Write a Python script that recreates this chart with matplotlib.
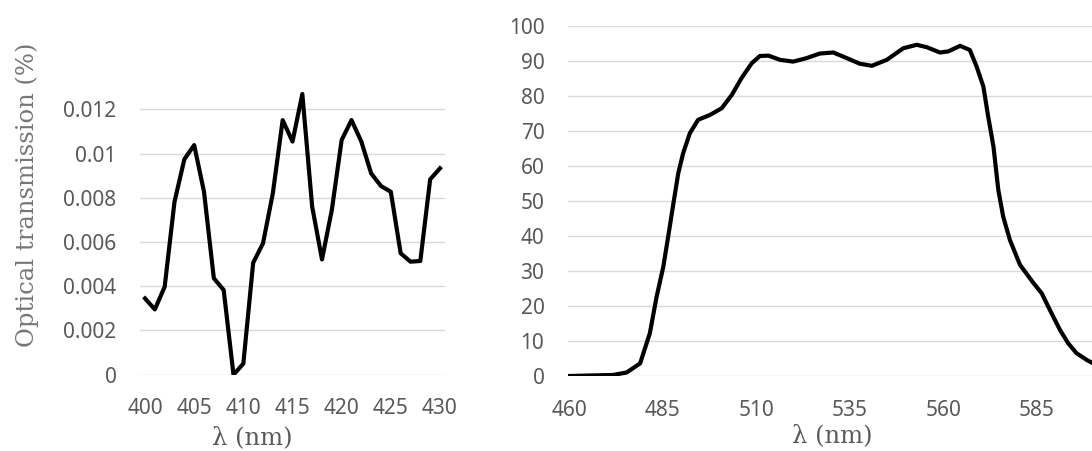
import matplotlib
matplotlib.use("Agg")
import matplotlib.pyplot as plt

# ---- data: left panel (out-of-band transmission) ----
wl_left = [400, 401, 402, 403, 404, 405, 406, 407, 408, 409, 410, 411, 412, 413, 414, 415,
           416, 417, 418, 419, 420, 421, 422, 423, 424, 425, 426, 427, 428, 429, 430]
trans_left = [0.00345, 0.00295, 0.00398, 0.00782, 0.00974, 0.01038, 0.00827, 0.00436,
              0.00383, 0.0, 0.0005, 0.00506, 0.00594, 0.0082, 0.01151, 0.01054, 0.01269,
              0.0076, 0.00521, 0.00745, 0.01061, 0.01151, 0.01054, 0.0091, 0.00853,
              0.00827, 0.00549, 0.00511, 0.00514, 0.00883, 0.00933]
left_yticks = [0, 0.002, 0.004, 0.006, 0.008, 0.010, 0.012]
left_yticklabels = ["0", "0.002", "0.004", "0.006", "0.008", "0.01", "0.012"]
left_xticks = [400, 405, 410, 415, 420, 425, 430]

# ---- data: right panel (passband) ----
wl_right = [460, 471.8, 475.4, 479, 481.6, 483.4, 485.2, 486.5, 487.9, 489.2, 490.5, 492.3,
            494.5, 497.7, 500.8, 503.5, 506.1, 508.8, 511, 513.3, 516.4, 519.9, 523.5, 527,
            530.6, 534.2, 537.7, 540.9, 544.9, 549.3, 552.9, 555.6, 559.1, 561.3, 564.5,
            567.1, 568.9, 570.7, 572, 573.4, 574.7, 576.0, 577.8, 580.5, 584.1, 586.3,
            588.5, 591.2, 593.4, 595.6, 598.3, 600]
trans_right = [0, 0.3, 1.0, 3.6, 12.2, 22.6, 31.2, 39.8, 49.3, 57.9, 63.6, 69.3,
               73.1, 74.5, 76.4, 80.2, 85.0, 89.2, 91.3, 91.4, 90.2, 89.7, 90.7, 92.0,
               92.3, 90.7, 89.1, 88.5, 90.2, 93.5, 94.5, 93.8, 92.3, 92.6, 94.2,
               93.0, 88.3, 82.6, 74, 65.5, 53.1, 45.5, 38.8, 31.7, 26.5, 23.6,
               18.8, 13.1, 9.3, 6.5, 4.6, 3.6]
right_yticks = [0, 10, 20, 30, 40, 50, 60, 70, 80, 90, 100]
right_xticks = [460, 485, 510, 535, 560, 585]

W, H = 1092, 451
TICK_COLOR = "#595959"
LABEL_COLOR = "#767676"
GRID_COLOR = "#d9d9d9"
TICK_FONT = "Noto Sans"
LABEL_FONT = "DejaVu Serif"
TICK_SIZE = 15
LABEL_SIZE = 17.5

fig = plt.figure(figsize=(W / 100, H / 100), dpi=100)


def px_axes(x0, x1, ytop, ybot):
    return fig.add_axes([x0 / W, (H - ybot) / H, (x1 - x0) / W, (ybot - ytop) / H])


def style(ax):
    for s in ax.spines.values():
        s.set_visible(False)
    ax.grid(axis="y", color=GRID_COLOR, linewidth=1.0)
    ax.set_axisbelow(True)
    ax.tick_params(length=0, colors=TICK_COLOR, labelsize=TICK_SIZE)
    ax.tick_params(axis="x", pad=17)
    ax.tick_params(axis="y", pad=17)
    for lab in ax.get_xticklabels() + ax.get_yticklabels():
        lab.set_fontfamily(TICK_FONT)


# left panel
axL = px_axes(140, 445, 78.3, 374.7)
axL.plot(wl_left, trans_left, color="black", linewidth=3.0, solid_joinstyle="round")
axL.set_yticks(left_yticks)
axL.set_yticklabels(left_yticklabels)
axL.set_xticks(left_xticks)
axL.set_xlim(399.49, 430.51)
axL.set_ylim(0, 0.0134)
style(axL)

# right panel
axR = px_axes(568, 1093, 25.5, 376)
axR.plot(wl_right, trans_right, color="black", linewidth=3.0, solid_joinstyle="round")
axR.set_yticks(right_yticks)
axR.set_xticks(right_xticks)
axR.set_xlim(459.73, 600)
axR.set_ylim(0, 100)
style(axR)

fig.text(27 / W, 1 - 195 / H, "Optical transmission (%)", rotation=90, ha="center",
         va="center", fontsize=LABEL_SIZE, family=LABEL_FONT, color=LABEL_COLOR)
fig.text(252 / W, 1 - 438 / H, "λ (nm)", ha="center", va="center",
         fontsize=LABEL_SIZE, family=LABEL_FONT, color=TICK_COLOR)
fig.text(832 / W, 1 - 436 / H, "λ (nm)", ha="center", va="center",
         fontsize=LABEL_SIZE, family=LABEL_FONT, color=TICK_COLOR)

fig.savefig("out.png", dpi=100)
